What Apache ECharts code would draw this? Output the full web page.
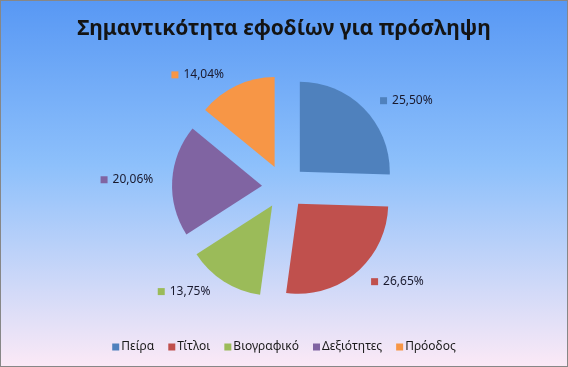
<!DOCTYPE html>
<html><head><meta charset="utf-8">
<script src="https://cdn.jsdelivr.net/npm/echarts@6/dist/echarts.min.js"></script>
<style>
html,body{margin:0;padding:0;background:#fff;}
#c{width:568px;height:367px;box-sizing:border-box;border:1px solid #878787;}
</style></head>
<body><div id="c"></div>
<script>
const title = 'Σημαντικότητα εφοδίων για πρόσληψη';
const categories = ['Πείρα', 'Τίτλοι', 'Βιογραφικό', 'Δεξιότητες', 'Πρόοδος'];
const values = [25.50, 26.65, 13.75, 20.06, 14.04];
const colors = ['#4F81BD', '#C0504D', '#9BBB59', '#8064A2', '#F79646'];

const chart = echarts.init(document.getElementById('c'), null, {renderer: 'canvas'});
const font = '"Noto Sans", "Open Sans", sans-serif';
const rich = {};
colors.forEach((c, i) => { rich['s' + i] = {width: 7, height: 7, backgroundColor: c}; });
rich.t = {fontSize: 12, color: '#1a1a2e', fontFamily: font, padding: [0, 0, 0, 5]};

chart.setOption({
  animation: false,
  backgroundColor: {type: 'linear', x: 0, y: 0, x2: 0, y2: 1,
    colorStops: [{offset: 0, color: '#5898F4'}, {offset: 0.45, color: '#8DC0FB'}, {offset: 1, color: '#FBE9F6'}]},
  title: {text: title, left: 'center', top: 13,
    textStyle: {fontSize: 21, fontWeight: 'bold', color: '#141414', fontFamily: font}},
  legend: {bottom: 8, left: 'center', icon: 'rect', itemWidth: 7, itemHeight: 7, itemGap: 14,
    textStyle: {fontSize: 12, color: '#1a1a1a', fontFamily: font, padding: [0, 0, 0, -3]},
    data: categories},
  color: colors,
  series: [{
    type: 'pie',
    center: [283, 186],
    radius: 90,
    startAngle: 90,
    clockwise: true,
    selectedMode: 'multiple',
    selectedOffset: 22,
    emphasis: {disabled: true},
    label: {
      position: 'outside',
      formatter: p => '{s' + p.dataIndex + '|}{t|' + p.value.toFixed(2).replace('.', ',') + '%}',
      rich: rich
    },
    labelLine: {show: false, length: 12, length2: 2},
    data: categories.map((n, i) => ({name: n, value: values[i], selected: true}))
  }]
});
</script></body></html>
